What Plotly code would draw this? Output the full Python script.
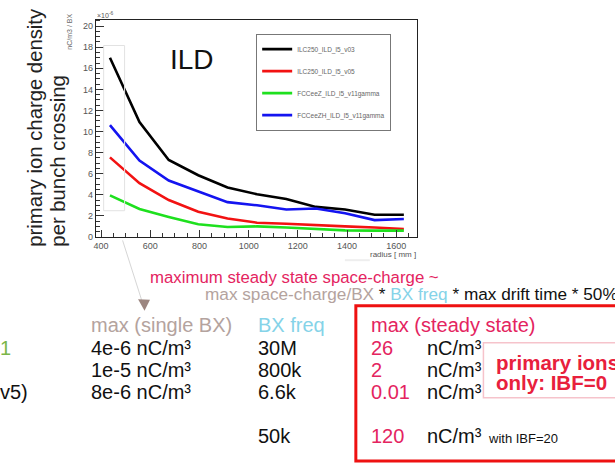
import plotly.graph_objects as go

W, H = 615, 468

# Primary ion charge density per bunch crossing, in units of 1e-6 nC/m3
radius_mm = [436, 556, 675, 795, 914, 1034, 1153, 1273, 1392, 1512, 1631]
ilc250_v03 = [17.0, 10.9, 7.3, 5.85, 4.7, 4.05, 3.6, 2.85, 2.6, 2.1, 2.1]
ilc250_v05 = [7.55, 5.1, 3.5, 2.4, 1.75, 1.35, 1.25, 1.1, 1.0, 0.9, 0.75]
fccee_z = [3.95, 2.65, 1.9, 1.2, 0.95, 1.0, 0.9, 0.75, 0.62, 0.6, 0.6]
fccee_zh = [10.6, 7.25, 5.35, 4.3, 3.3, 3.0, 2.6, 2.7, 2.25, 1.6, 1.7]

series_names = ["ILC250_ILD_l5_v03", "ILC250_ILD_l5_v05",
                "FCCeeZ_ILD_l5_v11gamma", "FCCeeZH_ILD_l5_v11gamma"]
series_values = [ilc250_v03, ilc250_v05, fccee_z, fccee_zh]
series_colors = ["#000000", "#f21212", "#1ee01e", "#1414f0"]

x_ticks = [400, 600, 800, 1000, 1200, 1400, 1600]
y_ticks = [0, 2, 4, 6, 8, 10, 12, 14, 16, 18, 20]

# Summary table
col_single_bx = ["4e-6 nC/m³", "1e-5 nC/m³", "8e-6 nC/m³"]
col_bx_freq = ["30M", "800k", "6.6k"]
col_steady = ["26", "2", "0.01"]

CRIMSON = "#e4245f"
TAUPE = "#b4a39e"
SKY = "#85d3e8"
FONT = "Liberation Sans"


def px(x):
    return x / W


def py(y):
    return 1 - y / H


fig = go.Figure()
for name, vals, col in zip(series_names, series_values, series_colors):
    fig.add_trace(go.Scatter(
        x=radius_mm, y=vals, mode="lines", name=name, legendgroup=name,
        line=dict(color=col, width=2.6),
    ))

axis_common = dict(
    showgrid=False, zeroline=False, showline=True, linecolor="#222",
    linewidth=1, mirror=True, ticks="inside", tickcolor="#333",
    tickfont=dict(family=FONT, size=9, color="#555"),
)

fig.update_layout(
    width=W, height=H,
    margin=dict(l=0, r=0, t=0, b=0),
    paper_bgcolor="white", plot_bgcolor="white",
    font=dict(family=FONT),
    xaxis=dict(
        domain=[px(94), px(416)], range=[378, 1683],
        tickvals=x_ticks, ticklen=7,
        minor=dict(dtick=50, tick0=0, ticks="inside", ticklen=4, tickcolor="#333"),
        **axis_common,
    ),
    yaxis=dict(
        domain=[py(239.5), py(20)], range=[0, 20.6],
        tickvals=y_ticks, ticklen=8,
        minor=dict(dtick=0.5, tick0=0, ticks="inside", ticklen=4, tickcolor="#333"),
        **axis_common,
    ),
    showlegend=True,
    legend=dict(
        x=px(255), y=py(34), xanchor="left", yanchor="top",
        bgcolor="white", bordercolor="#777", borderwidth=1,
        font=dict(family=FONT, size=6.5, color="#666"),
        tracegroupgap=3, itemwidth=30, entrywidth=128,
    ),
)

shapes = []
# faint highlight box over the innermost radius
shapes.append(dict(type="rect", xref="paper", yref="paper",
                   x0=px(102), x1=px(123), y0=py(213), y1=py(46),
                   line=dict(color="#e2e2e2", width=1)))
# pointer towards the single-BX column
shapes.append(dict(type="line", xref="paper", yref="paper",
                   x0=px(121), y0=py(243), x1=px(140), y1=py(303),
                   line=dict(color="#d6d6d6", width=1)))
shapes.append(dict(type="path", xref="paper", yref="paper",
                   path=f"M {px(136.5)} {py(302.5)} L {px(148.5)} {py(303)} L {px(143)} {py(314)} Z",
                   fillcolor="#9c8680", line=dict(width=0)))
shapes.append(dict(type="line", xref="paper", yref="paper",
                   x0=px(344), y0=py(263), x1=px(369), y1=py(263),
                   line=dict(color="#eeeeee", width=2)))
# steady-state box
shapes.append(dict(type="rect", xref="paper", yref="paper",
                   x0=px(355), x1=px(622), y0=py(466), y1=py(309),
                   line=dict(color="#ee1111", width=3)))
shapes.append(dict(type="rect", xref="paper", yref="paper",
                   x0=px(483), x1=px(622), y0=py(402), y1=py(346.5),
                   fillcolor="white", line=dict(color="#f6c3cb", width=1.5)))
fig.update_layout(shapes=shapes)

ann = []


def text(x, y, s, size, color="#111", xanchor="left", yanchor="middle", angle=0, bold=False):
    if bold:
        s = f"<b>{s}</b>"
    ann.append(dict(x=px(x), y=py(y), xref="paper", yref="paper", text=s,
                    showarrow=False, xanchor=xanchor, yanchor=yanchor,
                    textangle=angle, borderpad=0,
                    font=dict(family=FONT, size=size, color=color)))


# axis decorations
text(94, 15, "×10<sup>-6</sup>", 7, "#555")
text(68, 13, "nC/m3 / BX", 7, "#666", xanchor="center", yanchor="top", angle=-90)
text(416, 257, "radius [ mm ]", 8, "#555", xanchor="right")
text(191, 60, "ILD", 28, "#111", xanchor="center")

# big axis title
text(33, 250, "primary ion charge density", 20.3, "#222", xanchor="center", yanchor="bottom", angle=-90)
text(56, 250, "per bunch crossing", 20.3, "#222", xanchor="center", yanchor="bottom", angle=-90)

# formula
text(147, 280, "maximum steady state space-charge ~", 16.8, CRIMSON)
text(203, 297.5,
     f"<span style='color:{TAUPE}'>max space-charge/BX</span> * "
     f"<span style='color:{SKY}'>BX freq</span> * max drift time * 50%",
     17.2, "#111")

# table headers
text(88, 329, "max (single BX)", 20, TAUPE)
text(256, 329, "BX freq", 20, SKY)
text(369, 329, "max (steady state)", 20, CRIMSON)

row_y = [351.5, 374, 396.5]
for y, a, b, c in zip(row_y, col_single_bx, col_bx_freq, col_steady):
    text(88, y, a, 20, "#111")
    text(256, y, b, 20, "#111")
    text(369, y, c, 20, CRIMSON)
    text(425, y, "nC/m³", 20, "#111")

text(256, 441, "50k", 20, "#111")
text(369, 441, "120", 20, CRIMSON)
text(425, 441, "nC/m³", 20, "#111")
text(487, 443, "with IBF=20", 13, "#111")

text(495, 366, "primary ions", 20.5, "#e8203c", bold=True)
text(495, 386.5, "only: IBF=0", 20.5, "#e8203c", bold=True)

# partially visible left column
text(-3, 351.5, "1", 20, "#7ab648")
text(-3, 396.5, "v5)", 20, "#111")

fig.update_layout(annotations=ann)

fig.write_html("out.html")
